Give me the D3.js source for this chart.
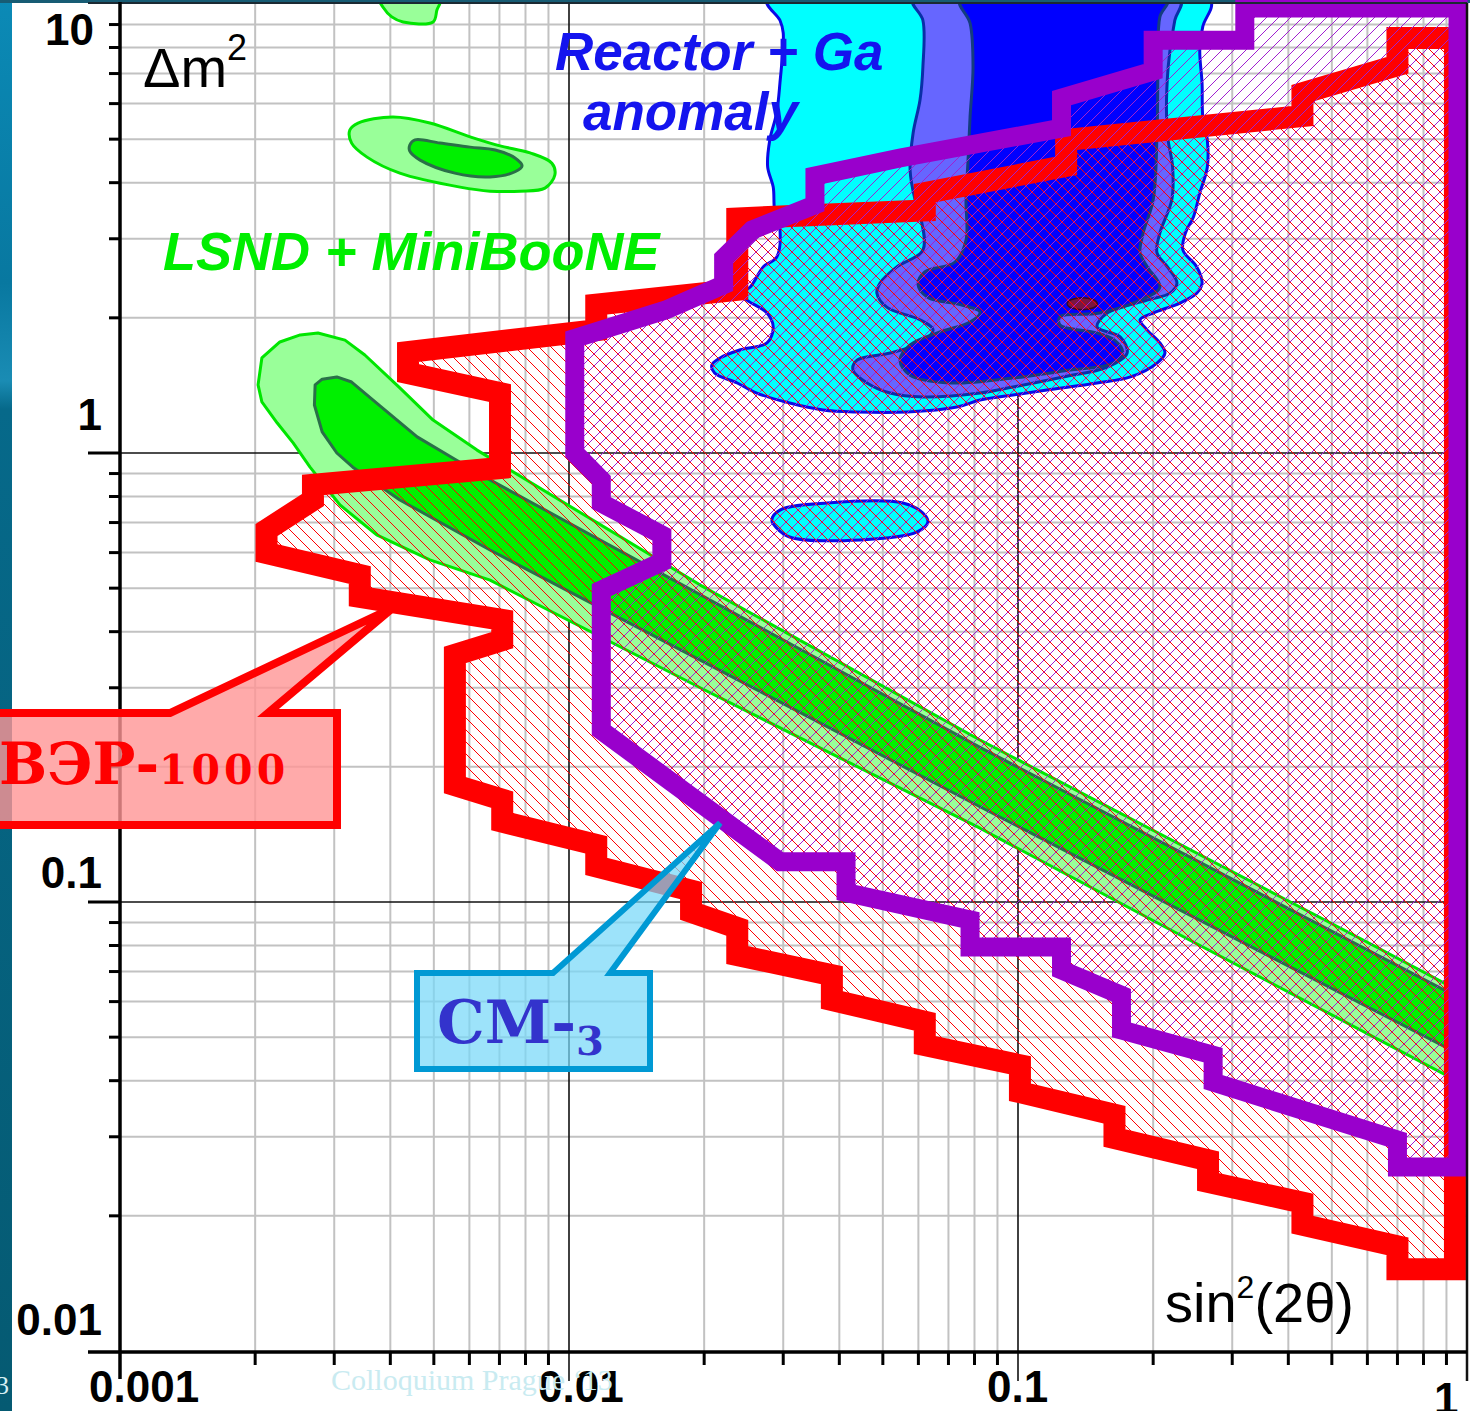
<!DOCTYPE html>
<html>
<head>
<meta charset="utf-8">
<script src="https://cdn.jsdelivr.net/npm/d3@7"></script>
<style>
  html, body { margin: 0; padding: 0; background: #fff; }
  svg { display: block; }
</style>
</head>
<body>
<div id="chart"></div>
<script>
// axis tick labels
const xTickValues = [0.001, 0.01, 0.1, 1]
const xTickLabels = ["0.001", "0.01", "0.1", "1"]
const yTickValues = [0.01, 0.1, 1, 10]
const yTickLabels = ["0.01", "0.1", "1", "10"]

// exclusion contours, [sin^2(2theta), dm^2]
const vepContour = [
  [0.00702, 0.926], [0.00702, 1.36], [0.00438, 1.507], [0.00438, 1.678], [0.0115, 1.878], [0.0115, 2.14],
  [0.0237, 2.31], [0.0237, 3.33], [0.062, 3.47], [0.062, 3.79], [0.128, 4.36], [0.128, 4.98],
  [0.43, 5.63], [0.43, 6.33], [0.70, 7.3], [0.70, 8.4], [0.94, 8.4], [0.94, 0.0152],
  [0.70, 0.0152], [0.70, 0.0171], [0.43, 0.0191], [0.43, 0.0214], [0.265, 0.0238], [0.265, 0.0266],
  [0.164, 0.0298], [0.164, 0.0336], [0.101, 0.0377], [0.101, 0.0433], [0.062, 0.048], [0.062, 0.0541],
  [0.0385, 0.0605], [0.0385, 0.0687], [0.0237, 0.0762], [0.0237, 0.0876], [0.0187, 0.095], [0.0187, 0.106],
  [0.0115, 0.120], [0.0115, 0.134], [0.0071, 0.151], [0.0071, 0.169], [0.00557, 0.182], [0.00557, 0.355],
  [0.0071, 0.383], [0.0071, 0.425], [0.00342, 0.478], [0.00342, 0.535], [0.00212, 0.599], [0.00212, 0.674],
  [0.00269, 0.786], [0.00269, 0.849]
]
const cm3Contour = [
  [0.32, 9.8], [0.955, 9.8], [0.955, 0.0257], [0.70, 0.0257], [0.70, 0.0295], [0.272, 0.0397],
  [0.272, 0.0456], [0.17, 0.0519], [0.17, 0.062], [0.125, 0.0706], [0.125, 0.0794], [0.0782, 0.0794],
  [0.0782, 0.0912], [0.0414, 0.105], [0.0414, 0.123], [0.0295, 0.123], [0.0118, 0.241], [0.0118, 0.495],
  [0.0161, 0.572], [0.0161, 0.657], [0.0118, 0.774], [0.0118, 0.871], [0.0103, 1.0], [0.0103, 1.80],
  [0.0164, 2.08], [0.0221, 2.37], [0.0221, 2.72], [0.0256, 3.14], [0.0353, 3.57], [0.0353, 4.14],
  [0.0546, 4.54], [0.125, 5.29], [0.125, 6.17], [0.2, 7.09], [0.2, 8.3], [0.32, 8.3]
]

// LSND + MiniBooNE allowed regions
const lsndOuter = [
  [0.00203, 1.418], [0.00207, 1.628], [0.00227, 1.767], [0.00252, 1.832], [0.00276, 1.85], [0.00317, 1.784],
  [0.00351, 1.653], [0.0042, 1.396], [0.00498, 1.184], [0.00624, 1.015], [0.0196, 0.508], [0.0823, 0.2295],
  [0.587, 0.0823], [1.0, 0.062], [1.0, 0.0389], [0.241, 0.0823], [0.0823, 0.146], [0.0196, 0.300],
  [0.00667, 0.521], [0.0049, 0.578], [0.00373, 0.657], [0.00309, 0.766], [0.00265, 0.930], [0.00243, 1.053],
  [0.00224, 1.166], [0.00207, 1.30]
]
const lsndInner = [
  [0.00272, 1.418], [0.00282, 1.46], [0.00304, 1.477], [0.00328, 1.439], [0.00373, 1.292], [0.00459, 1.086],
  [0.00551, 0.975], [0.00667, 0.871], [0.0823, 0.221], [1.0, 0.0599], [1.0, 0.0449], [0.0823, 0.163],
  [0.00667, 0.608], [0.0042, 0.786], [0.0033, 0.930], [0.00304, 1.0], [0.00282, 1.114], [0.00271, 1.279]
]
const lsndIslandOuter = [
  [0.00325, 5.24], [0.00339, 5.43], [0.00405, 5.6], [0.0049, 5.43], [0.00602, 5.06], [0.00702, 4.83],
  [0.00819, 4.66], [0.00916, 4.42], [0.0093, 4.16], [0.00884, 3.89], [0.00778, 3.83], [0.00667, 3.83],
  [0.00572, 3.91], [0.0042, 4.20], [0.00355, 4.56], [0.00328, 4.90]
]
const lsndIslandInner = [
  [0.00442, 4.85], [0.00454, 4.98], [0.00516, 4.90], [0.00602, 4.80], [0.00685, 4.73], [0.00758, 4.54],
  [0.00786, 4.36], [0.00758, 4.23], [0.00667, 4.12], [0.00557, 4.20], [0.00466, 4.49], [0.00442, 4.70]
]
const lsndIslandTop = [
  [0.00379, 10.2], [0.00385, 9.85], [0.00403, 9.36], [0.00427, 9.12], [0.00498, 9.12], [0.00508, 9.7], [0.00516, 10.2]
]

// Reactor + Ga anomaly allowed regions
const reactorOuter = [
  [0.0276, 10.2], [0.0295, 9.2], [0.030, 8.62], [0.0295, 6.67], [0.029, 5.72], [0.028, 4.98], [0.0277, 4.33],
  [0.0285, 3.91], [0.0287, 3.47], [0.0295, 3.14], [0.029, 2.73], [0.0271, 2.60], [0.0253, 2.34], [0.024, 2.27],
  [0.0249, 2.19], [0.0276, 2.05], [0.0285, 1.908], [0.0276, 1.758], [0.024, 1.696], [0.0217, 1.628], [0.0208, 1.57],
  [0.0211, 1.507], [0.0237, 1.432], [0.0262, 1.36], [0.031, 1.292], [0.0368, 1.247], [0.0438, 1.234], [0.0566, 1.234],
  [0.0731, 1.266], [0.0823, 1.312], [0.0975, 1.346], [0.116, 1.381], [0.150, 1.432], [0.178, 1.477], [0.204, 1.586],
  [0.2125, 1.67], [0.207, 1.758], [0.194, 1.878], [0.187, 1.98], [0.200, 2.05], [0.23, 2.16], [0.25, 2.27],
  [0.257, 2.39], [0.25, 2.60], [0.233, 2.83], [0.236, 3.09], [0.246, 3.36], [0.254, 3.79], [0.264, 4.33],
  [0.264, 4.98], [0.258, 5.6], [0.257, 6.67], [0.254, 7.9], [0.258, 8.91], [0.268, 10.2]
]
const reactorMid = [
  [0.0584, 10.2], [0.0614, 9.2], [0.0614, 7.24], [0.0605, 6.11], [0.0584, 5.16], [0.0575, 4.27], [0.059, 3.66],
  [0.0605, 3.39], [0.0614, 2.83], [0.0538, 2.60], [0.0493, 2.39], [0.0485, 2.27], [0.0511, 2.11], [0.0605, 1.98],
  [0.0647, 1.878], [0.0605, 1.758], [0.0519, 1.67], [0.0438, 1.61], [0.0429, 1.53], [0.0461, 1.432], [0.0519, 1.36],
  [0.0614, 1.333], [0.0823, 1.36], [0.0975, 1.403], [0.126, 1.477], [0.158, 1.554], [0.175, 1.67], [0.169, 1.813],
  [0.150, 1.908], [0.158, 2.05], [0.194, 2.19], [0.218, 2.27], [0.226, 2.39], [0.215, 2.60], [0.204, 2.79],
  [0.207, 3.09], [0.22, 3.66], [0.221, 4.33], [0.215, 5.16], [0.216, 7.24], [0.2235, 9.2], [0.23, 10.2]
]
const reactorCore = [
  [0.0743, 10.2], [0.0782, 9.07], [0.0794, 7.24], [0.0782, 5.6], [0.0774, 4.49], [0.0766, 3.66], [0.0766, 2.98],
  [0.0724, 2.66], [0.062, 2.53], [0.0599, 2.37], [0.063, 2.22], [0.0743, 2.14], [0.0823, 2.06], [0.0782, 1.957],
  [0.067, 1.86], [0.0575, 1.74], [0.0546, 1.61], [0.0575, 1.49], [0.0706, 1.432], [0.0975, 1.469], [0.126, 1.523],
  [0.163, 1.586], [0.171, 1.678], [0.164, 1.784], [0.150, 1.85], [0.124, 1.928], [0.124, 2.01], [0.152, 2.05],
  [0.187, 2.19], [0.207, 2.34], [0.194, 2.60], [0.187, 2.79], [0.190, 3.09], [0.200, 3.66], [0.204, 5.16],
  [0.205, 7.24], [0.207, 9.36], [0.215, 10.2]
]
const reactorIsland = [
  [0.0283, 0.709], [0.0295, 0.746], [0.0376, 0.774], [0.0554, 0.774], [0.0614, 0.735], [0.063, 0.702],
  [0.0596, 0.667], [0.0445, 0.640], [0.031, 0.65], [0.029, 0.681]
]
const bestFit = [0.139, 2.15]

// callout pointer tips
const vepCalloutTip = [0.00405, 0.452]
const cm3CalloutTip = [0.0217, 0.150]

const width = 1470, height = 1411
const x = d3.scaleLog().domain([0.001, 1]).range([120, 1467])
const y = d3.scaleLog().domain([0.01, 10]).range([1351, 4])

const sans = "'Liberation Sans', Arial, sans-serif"
const serif = "'DejaVu Serif', serif"

const svg = d3.select("#chart").append("svg")
  .attr("width", width)
  .attr("height", height)
const defs = svg.append("defs")

// slide background strip on the left
const grad = defs.append("linearGradient").attr("id", "strip")
  .attr("x1", 0).attr("y1", 0).attr("x2", 0).attr("y2", 1)
grad.selectAll("stop")
  .data([["0%", "#0b8ab6"], ["20%", "#0878a0"], ["27%", "#1a8cb4"], ["29%", "#06698a"], ["100%", "#055a72"]])
  .join("stop")
  .attr("offset", d => d[0])
  .attr("stop-color", d => d[1])

// hatch patterns
function hatch(id, color, forward) {
  const s = 12
  const p = defs.append("pattern").attr("id", id)
    .attr("patternUnits", "userSpaceOnUse")
    .attr("width", s).attr("height", s)
  const d = forward
    ? `M0,${s}L${s},0M-1,1L1,-1M${s - 1},${s + 1}L${s + 1},${s - 1}`
    : `M0,0L${s},${s}M-1,${s - 1}L1,${s + 1}M${s - 1},-1L${s + 1},1`
  p.append("path").attr("d", d)
    .attr("stroke", color).attr("stroke-width", 1)
    .attr("fill", "none")
    .attr("shape-rendering", "crispEdges")
}
hatch("hatchRed", "#ff0000", false)
hatch("hatchPurple", "#a020d0", true)

defs.append("clipPath").attr("id", "plotClip")
  .append("rect").attr("x", 120).attr("y", 4).attr("width", 1347).attr("height", 1347)
defs.append("clipPath").attr("id", "lineClip")
  .append("rect").attr("x", 120).attr("y", 0).attr("width", 1350).attr("height", 1352)

svg.append("rect").attr("x", 0).attr("y", 0).attr("width", 12).attr("height", height).attr("fill", "url(#strip)")
svg.append("rect").attr("x", 0).attr("y", 0).attr("width", width).attr("height", 3).attr("fill", "#175c74")

// slide number fragment
svg.append("text").attr("x", 9).attr("y", 1394).attr("text-anchor", "end")
  .attr("font-family", "'Liberation Serif', serif").attr("font-size", 26).attr("fill", "#d5eef3").text("13")

// grid
const isDecade = v => Math.abs(Math.log10(v) - Math.round(Math.log10(v))) < 1e-6
const xMinor = x.ticks().filter(v => !isDecade(v))
const yMinor = y.ticks().filter(v => !isDecade(v))

const grid = svg.append("g")
grid.selectAll(".gx").data(xMinor).join("line")
  .attr("x1", d => x(d)).attr("x2", d => x(d))
  .attr("y1", y(10)).attr("y2", y(0.01))
  .attr("stroke", "#c2c2c2").attr("stroke-width", 2)
grid.selectAll(".gy").data(yMinor).join("line")
  .attr("x1", x(0.001)).attr("x2", x(1))
  .attr("y1", d => y(d)).attr("y2", d => y(d))
  .attr("stroke", "#c2c2c2").attr("stroke-width", 2)
grid.selectAll(".mx").data(xTickValues.slice(1, 3)).join("line")
  .attr("x1", d => x(d)).attr("x2", d => x(d))
  .attr("y1", y(10)).attr("y2", y(0.01) + 30)
  .attr("stroke", "#111").attr("stroke-width", 1.6)
grid.selectAll(".my").data(yTickValues.slice(1, 3)).join("line")
  .attr("x1", x(0.001) - 32).attr("x2", x(1))
  .attr("y1", d => y(d)).attr("y2", d => y(d))
  .attr("stroke", "#111").attr("stroke-width", 1.6)

const lin = d3.line().x(d => x(d[0])).y(d => y(d[1])).curve(d3.curveLinearClosed)
const smooth = d3.line().x(d => x(d[0])).y(d => y(d[1])).curve(d3.curveCatmullRomClosed.alpha(0.5))

// allowed regions
const regions = svg.append("g").attr("clip-path", "url(#plotClip)")

const greenSets = [
  { data: lsndOuter, gen: lin, fill: "#99ff99", stroke: "#00e600" },
  { data: lsndInner, gen: lin, fill: "#00f000", stroke: "#2a7048" },
  { data: lsndIslandOuter, gen: smooth, fill: "#99ff99", stroke: "#00e600" },
  { data: lsndIslandInner, gen: smooth, fill: "#00f000", stroke: "#2a7048" },
  { data: lsndIslandTop, gen: smooth, fill: "#99ff99", stroke: "#00e600" }
]
regions.selectAll(".green").data(greenSets).join("path")
  .attr("d", d => d.gen(d.data))
  .attr("fill", d => d.fill)
  .attr("stroke", d => d.stroke)
  .attr("stroke-width", 3)
  .attr("stroke-linejoin", "round")

const blueSets = [
  { data: reactorOuter, fill: "#00ffff", stroke: "#0a0ae6" },
  { data: reactorMid, fill: "#6666ff", stroke: "#0a2fa8" },
  { data: reactorCore, fill: "#0000ff", stroke: "#143c80" },
  { data: reactorIsland, fill: "#00ffff", stroke: "#0a0ae6" }
]
regions.selectAll(".blue").data(blueSets).join("path")
  .attr("d", d => smooth(d.data))
  .attr("fill", d => d.fill)
  .attr("stroke", d => d.stroke)
  .attr("stroke-width", 3)
  .attr("stroke-linejoin", "round")

regions.append("ellipse")
  .attr("cx", x(bestFit[0])).attr("cy", y(bestFit[1]))
  .attr("rx", 15).attr("ry", 6)
  .attr("fill", "#7a1640").attr("stroke", "#3a0a22").attr("stroke-width", 1.5)

// region labels
svg.append("text").attr("x", 163).attr("y", 270)
  .attr("font-family", sans).attr("font-size", 54).attr("font-weight", "bold").attr("font-style", "italic")
  .attr("fill", "#00ee00").text("LSND + MiniBooNE")
svg.append("text").attr("x", 555).attr("y", 70)
  .attr("font-family", sans).attr("font-size", 53).attr("font-weight", "bold").attr("font-style", "italic")
  .attr("fill", "#1414ee").text("Reactor + Ga")
svg.append("text").attr("x", 583).attr("y", 130)
  .attr("font-family", sans).attr("font-size", 53).attr("font-weight", "bold").attr("font-style", "italic")
  .attr("fill", "#1414ee").text("anomaly")

// exclusion regions: hatch + thick boundaries
const excl = svg.append("g").attr("clip-path", "url(#lineClip)")
excl.append("path").attr("d", lin(vepContour)).attr("fill", "url(#hatchRed)").attr("clip-path", "url(#plotClip)")
excl.append("path").attr("d", lin(vepContour))
  .attr("fill", "none").attr("stroke", "#ff0000").attr("stroke-width", 22).attr("stroke-linejoin", "miter")
excl.append("path").attr("d", lin(cm3Contour)).attr("fill", "url(#hatchPurple)").attr("clip-path", "url(#plotClip)")
excl.append("path").attr("d", lin(cm3Contour))
  .attr("fill", "none").attr("stroke", "#9900cc").attr("stroke-width", 19).attr("stroke-linejoin", "miter")

// frame and axes
const axes = svg.append("g")
axes.append("line").attr("x1", x(0.001) - 32).attr("x2", x(1)).attr("y1", 3).attr("y2", 3)
  .attr("stroke", "#1b2a33").attr("stroke-width", 2)
axes.append("line").attr("x1", x(1)).attr("x2", x(1)).attr("y1", 3).attr("y2", y(0.01) + 30)
  .attr("stroke", "#111").attr("stroke-width", 2.5)
axes.append("line").attr("x1", x(0.001)).attr("x2", x(0.001)).attr("y1", 2).attr("y2", y(0.01) + 28)
  .attr("stroke", "#000").attr("stroke-width", 3.5)
axes.append("line").attr("x1", x(0.001) - 32).attr("x2", x(1)).attr("y1", y(0.01) + 1).attr("y2", y(0.01) + 1)
  .attr("stroke", "#000").attr("stroke-width", 3.5)
axes.selectAll(".ty").data(yMinor).join("line")
  .attr("x1", x(0.001) - 11).attr("x2", x(0.001))
  .attr("y1", d => y(d)).attr("y2", d => y(d))
  .attr("stroke", "#000").attr("stroke-width", 3)
axes.selectAll(".tym").data(yTickValues.slice(1, 3)).join("line")
  .attr("x1", x(0.001) - 32).attr("x2", x(0.001))
  .attr("y1", d => y(d)).attr("y2", d => y(d))
  .attr("stroke", "#000").attr("stroke-width", 3)
axes.selectAll(".tx").data(xMinor).join("line")
  .attr("x1", d => x(d)).attr("x2", d => x(d))
  .attr("y1", y(0.01)).attr("y2", y(0.01) + 14)
  .attr("stroke", "#000").attr("stroke-width", 3)

// footer watermark (under the tick labels, as on the slide)
svg.append("text").attr("x", 331).attr("y", 1390)
  .attr("font-family", "'Liberation Serif', serif").attr("font-size", 30)
  .attr("fill", "#c9ebf1").text("Colloquium Prague ‘13")

// tick labels: the tick passes through the decimal point
axes.selectAll(".lx").data(xTickValues).join("text")
  .attr("x", (d, i) => x(d) - (i === 3 ? 33 : 31))
  .attr("y", (d, i) => i === 3 ? 1414 : 1402)
  .attr("font-family", sans).attr("font-size", 44).attr("font-weight", "bold")
  .attr("fill", "#000")
  .text((d, i) => xTickLabels[i])
const yLabelShift = [-16, -14, -23, 41]
axes.selectAll(".ly").data(yTickValues).join("text")
  .attr("x", (d, i) => i === 3 ? 94 : 102)
  .attr("y", (d, i) => y(d) + yLabelShift[i])
  .attr("text-anchor", "end")
  .attr("font-family", sans).attr("font-size", 44).attr("font-weight", "bold")
  .attr("fill", "#000")
  .text((d, i) => yTickLabels[i])

// axis titles
const dm = svg.append("text").attr("x", 143).attr("y", 87)
  .attr("font-family", sans).attr("font-size", 56).attr("fill", "#000")
dm.append("tspan").text("Δm")
dm.append("tspan").attr("font-size", 36).attr("dy", -27).text("2")

const st = svg.append("text").attr("x", 1165).attr("y", 1322)
  .attr("font-family", sans).attr("font-size", 56).attr("fill", "#000")
st.append("tspan").text("sin")
st.append("tspan").attr("font-size", 32).attr("dy", -24).text("2")
st.append("tspan").attr("dy", 24).text("(2θ)")

// callouts
const vt = [x(vepCalloutTip[0]), y(vepCalloutTip[1])]
svg.append("path")
  .attr("d", `M-10,713 L170,713 L${vt[0]},${vt[1]} L268,713 L337,713 L337,825 L-10,825 Z`)
  .attr("fill", "#ff9595").attr("fill-opacity", 0.8)
  .attr("stroke", "#ff0000").attr("stroke-width", 8).attr("stroke-linejoin", "miter")
const vl = svg.append("text").attr("x", -1).attr("y", 784)
  .attr("font-family", serif).attr("font-weight", "bold").attr("font-size", 57).attr("fill", "#ff0000")
vl.append("tspan").text("ВЭР-")
vl.append("tspan").attr("font-size", 41).attr("letter-spacing", 4).text("1000")

const ct = [x(cm3CalloutTip[0]), y(cm3CalloutTip[1])]
svg.append("path")
  .attr("d", `M417,973 L553,973 L${ct[0]},${ct[1]} L610,973 L650,973 L650,1069 L417,1069 Z`)
  .attr("fill", "#77d8f8").attr("fill-opacity", 0.72)
  .attr("stroke", "#0099d4").attr("stroke-width", 6).attr("stroke-linejoin", "miter")
const cl = svg.append("text").attr("x", 437).attr("y", 1043)
  .attr("font-family", serif).attr("font-weight", "bold").attr("font-size", 60).attr("fill", "#3333cc")
cl.append("tspan").text("СМ-")
cl.append("tspan").attr("font-size", 40).attr("dy", 12).text("3")
</script>
</body>
</html>
